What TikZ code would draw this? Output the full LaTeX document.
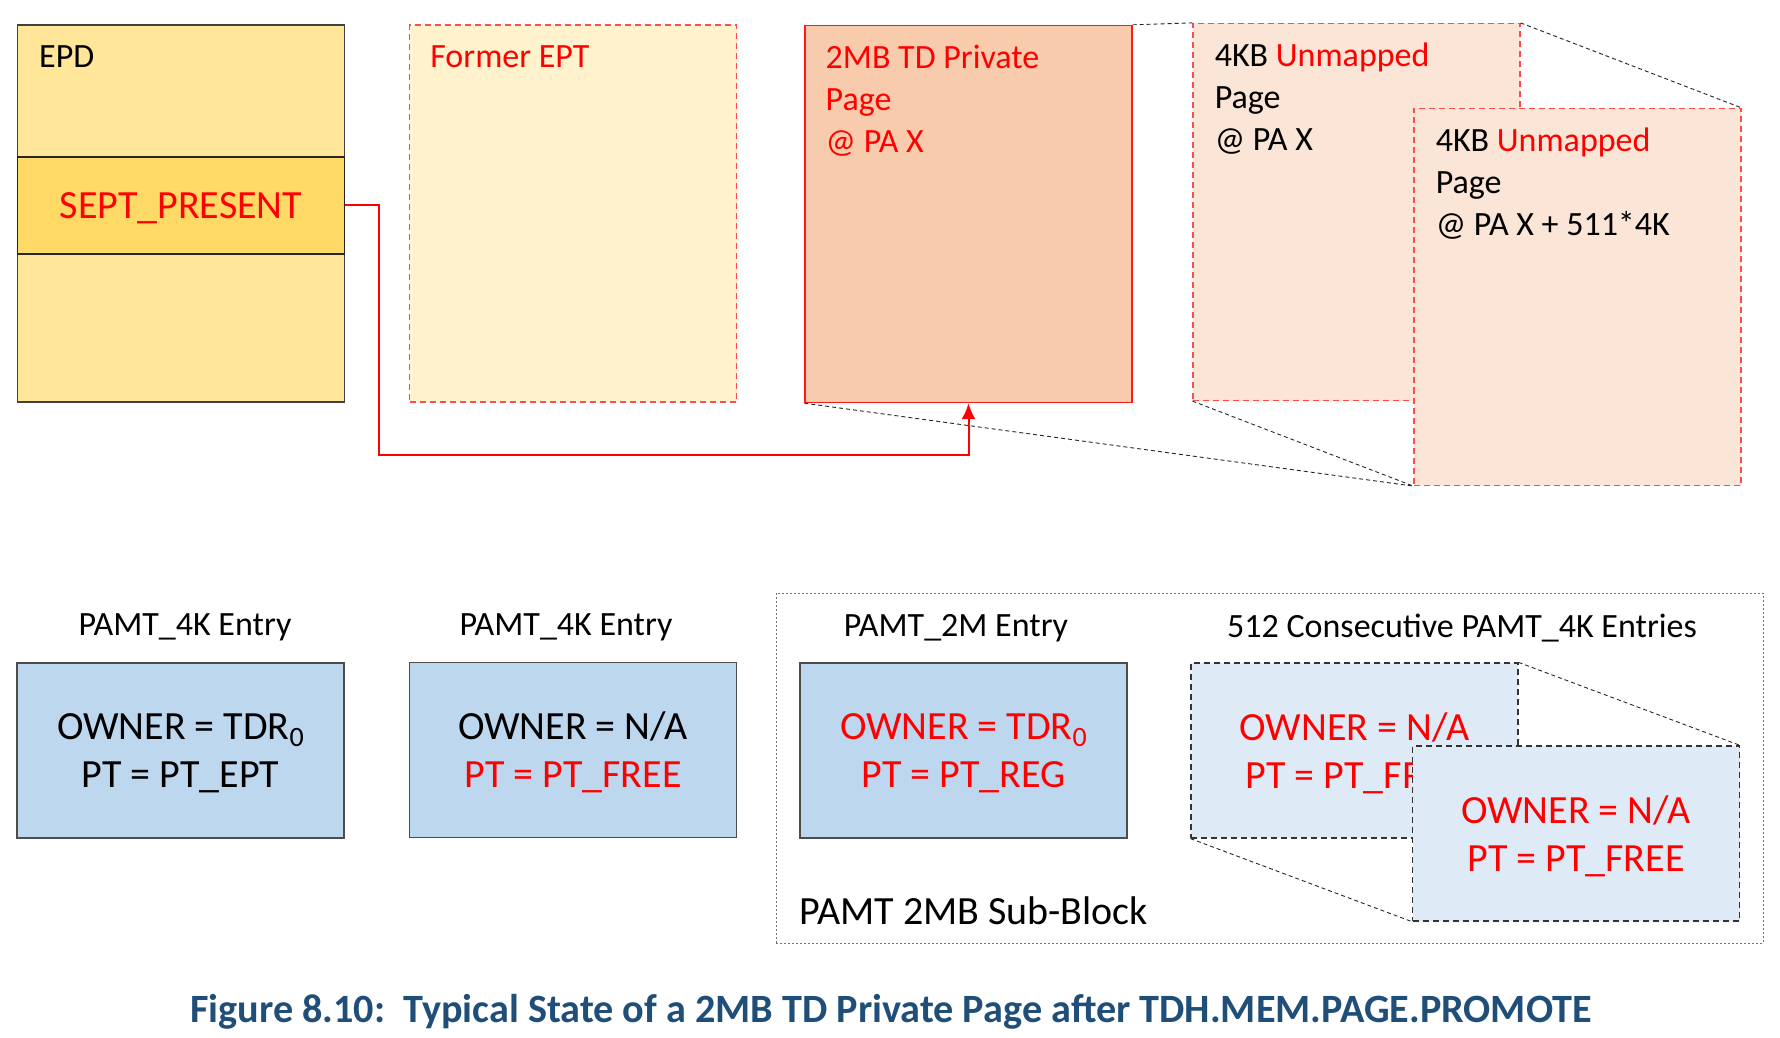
\documentclass[tikz,border=0pt]{standalone}
\usepackage{fontspec}
\setmainfont{Carlito}
\usetikzlibrary{arrows.meta,positioning}
\definecolor{epdfill}{HTML}{FFE699}
\definecolor{septfill}{HTML}{FFD966}
\definecolor{formerfill}{HTML}{FFF2CC}
\definecolor{privfill}{HTML}{F8CBAD}
\definecolor{pagefill}{HTML}{FBE5D6}
\definecolor{entryfill}{HTML}{BDD7EE}
\definecolor{entrylight}{HTML}{DEEBF7}
\definecolor{capblue}{HTML}{1F4E79}
\definecolor{dashred}{HTML}{FF4B4B}
\newcommand{\subzero}{\raisebox{-0.35ex}{\fontsize{14}{14}\selectfont 0}}
\tikzset{
  pagebox/.style={minimum width=163.5pt, minimum height=188.5pt, inner sep=0pt},
  entrybox/.style={minimum width=163.5pt, minimum height=87.5pt, inner sep=0pt,
    align=center, text depth=0pt, font=\fontsize{20}{24}\selectfont},
  pagetext/.style={anchor=north west, inner sep=0pt, align=left,
    font=\fontsize{17}{21}\selectfont},
  headtext/.style={inner sep=0pt, font=\fontsize{17}{21}\selectfont},
  redbox/.style={draw=dashred, line width=0.6pt, dash pattern=on 3pt off 2pt},
  blackbox/.style={draw=black!80, line width=0.6pt, dash pattern=on 3pt off 2pt},
  guide/.style={draw=black!85, line width=0.45pt, dash pattern=on 2pt off 1.5pt}
}
\begin{document}
\begin{tikzpicture}[x=0.5pt,y=-0.5pt,line join=miter]
  \useasboundingbox (0,0) rectangle (1780,1037);
  \node[pagebox, fill=epdfill, draw=black!75, line width=0.7pt] (epd) at (181,213.5) {};
  \node[pagebox, minimum height=48.5pt, fill=septfill, draw=black!85, line width=0.6pt,
    text=red, text height=12.9pt, text depth=0pt,
    font=\fontsize{20}{24}\selectfont] (sept) at (181,205.5) {SEPT\_PRESENT};
  \node[pagebox, fill=formerfill, redbox] (former) at (573,213.5) {};
  \node[pagebox, fill=privfill, draw=red!90, line width=0.7pt] (priv) at (968.5,214) {};
  \node[pagebox, fill=pagefill, redbox] (pg1) at (1356.5,212) {};
  \node[pagebox, fill=pagefill, redbox] (pg2) at (1577.5,297) {};
  \node[pagetext] at ([xshift=11pt,yshift=-10.5pt]epd.north west) {EPD};
  \node[pagetext, text=red] at ([xshift=10.5pt,yshift=-10.5pt]former.north west) {Former EPT};
  \node[pagetext, text=red] at ([xshift=10.5pt,yshift=-10pt]priv.north west) {2MB TD Private\\Page\\@ PA X};
  \node[pagetext] at ([xshift=11pt,yshift=-10pt]pg1.north west) {4KB \textcolor{red}{Unmapped}\\Page\\@ PA X};
  \node[pagetext] at ([xshift=11pt,yshift=-10pt]pg2.north west) {4KB \textcolor{red}{Unmapped}\\Page\\@ PA X + 511*4K};
  \draw[guide] (priv.north east) -- (pg1.north west);
  \draw[guide] (pg1.north east) -- (pg2.north east);
  \draw[guide] (priv.south west) -- (pg2.south west);
  \draw[guide] (pg1.south west) -- (pg2.south west);
  \coordinate (bend) at (379,455);
  \draw[red, line width=1pt, -{Latex[length=8pt,width=7pt]}] (sept.east) -| (bend) -| (priv.south);
  \node[draw=black!55, line width=0.5pt, dash pattern=on 1pt off 1pt,
    minimum width=493.5pt, minimum height=175pt, inner sep=0pt] (sub) at (1269.5,768) {};
  \node[headtext] (h1) at (185,627.5) {PAMT\_4K Entry};
  \node[headtext] (h2) at (566,627.5) {PAMT\_4K Entry};
  \node[headtext] (h3) at (956,628.5) {PAMT\_2M Entry};
  \node[headtext] (h4) at (1462,628.5) {512 Consecutive PAMT\_4K Entries};
  \node[entrybox, fill=entryfill, draw=black!70, line width=0.7pt] (e1) at (180.5,750.5)
    {OWNER = TDR\subzero\\PT = PT\_EPT};
  \node[entrybox, fill=entryfill, draw=black!70, line width=0.7pt] (e2) at (573,750)
    {OWNER = N/A\\\textcolor{red}{PT = PT\_FREE}};
  \node[entrybox, fill=entryfill, draw=black!70, line width=0.7pt, text=red] (e3) at (963.5,750.5)
    {OWNER = TDR\subzero\\PT = PT\_REG};
  \node[entrybox, fill=entrylight, blackbox, text=red] (e4) at (1354.5,750.5)
    {OWNER = N/A\\PT = PT\_FREE};
  \node[entrybox, fill=entrylight, blackbox, text=red] (e5) at (1576,833.5)
    {OWNER = N/A\\PT = PT\_FREE};
  \draw[guide] (e4.north east) -- (e5.north east);
  \draw[guide] (e4.south west) -- (e5.south west);
  \node[anchor=west, inner sep=0pt, font=\fontsize{20}{24}\selectfont] (sublbl) at (799,911) {PAMT 2MB Sub-Block};
  \node[text=capblue, font=\fontsize{20.1}{24}\selectfont\bfseries] (cap) at (891,1012)
    {Figure 8.10:\ \ Typical State of a 2MB TD Private Page after TDH.MEM.PAGE.PROMOTE};
\end{tikzpicture}
\end{document}
